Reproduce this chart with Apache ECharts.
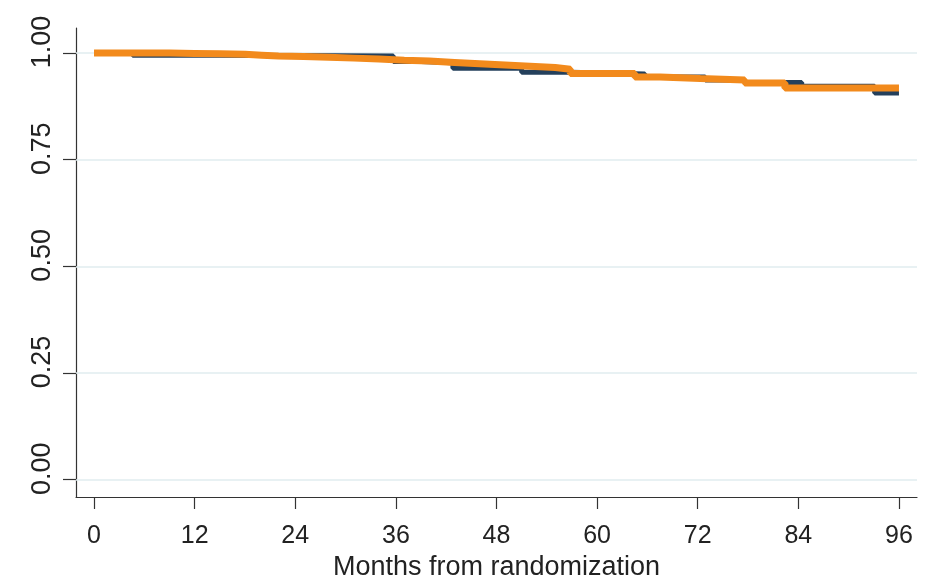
<!DOCTYPE html>
<html>
<head>
<meta charset="utf-8">
<script src="https://cdn.jsdelivr.net/npm/echarts@6/dist/echarts.min.js"></script>
<style>
  html, body { margin: 0; padding: 0; background: #fff; }
  #chart { width: 947px; height: 577px; }
</style>
</head>
<body>
<div id="chart"></div>
<script>
// tick values on each axis
const monthTicks = [0, 12, 24, 36, 48, 60, 72, 84, 96];
const survTicks = [0, 0.25, 0.5, 0.75, 1];

// Kaplan-Meier steps: [month, survival]
const navySteps = [
  [0, 1.0], [4.6, 0.995], [15, 0.993], [35.7, 0.980], [39, 0.977],
  [42.8, 0.964], [51, 0.955], [56.8, 0.951], [65.7, 0.944], [72.9, 0.937],
  [77.6, 0.931], [84.4, 0.922], [93.1, 0.906], [96, 0.906]
];
const orangeSteps = [
  [0, 1.0], [9, 0.999], [12, 0.998], [15, 0.997], [18, 0.995], [20, 0.993],
  [22, 0.992], [25, 0.990], [28, 0.988], [31, 0.986], [34, 0.983], [37, 0.981],
  [40, 0.978], [43, 0.975], [46, 0.972], [49, 0.969], [52, 0.966], [55, 0.962],
  [56.8, 0.952], [64.5, 0.944], [67.5, 0.940], [72.3, 0.937], [77.6, 0.930],
  [82.4, 0.918], [96, 0.918]
];

const chart = echarts.init(document.getElementById('chart'));
const txt = '#222';
const font = '"Liberation Sans", Arial, sans-serif';

chart.setOption({
  animation: false,
  grid: { left: 76, right: 30, top: 28, bottom: 80, outerBoundsMode: 'none', containLabel: false },
  xAxis: {
    type: 'value',
    min: -2.15,
    max: 98.15,
    name: 'Months from randomization',
    nameLocation: 'middle',
    nameGap: 45,
    nameTextStyle: { fontSize: 27, color: txt, fontFamily: font },
    axisLine: { show: true, onZero: false, lineStyle: { color: '#333', width: 1.2 } },
    axisTick: { show: true, length: 12, customValues: monthTicks, lineStyle: { color: '#333', width: 1.2 } },
    axisLabel: { customValues: monthTicks, fontSize: 25, color: txt, fontFamily: font, margin: 27 },
    splitLine: { show: false }
  },
  yAxis: {
    type: 'value',
    min: -0.0405,
    max: 1.0586,
    axisLine: { show: true, onZero: false, lineStyle: { color: '#333', width: 1.2 } },
    axisTick: { show: true, length: 13, customValues: survTicks, lineStyle: { color: '#333', width: 1.2 } },
    axisLabel: {
      customValues: survTicks,
      rotate: 90,
      fontSize: 27,
      color: txt,
      fontFamily: font,
      margin: 20,
      padding: [0, 0, 0, 22],
      formatter: (v) => v.toFixed(2)
    },
    splitLine: { show: false }
  },
  series: [
    {
      // horizontal grid lines at the y ticks
      type: 'line',
      data: [],
      z: 1,
      silent: true,
      markLine: {
        z: 1,
        silent: true,
        symbol: 'none',
        label: { show: false },
        lineStyle: { color: '#e1ecef', width: 1.5, type: 'solid' },
        data: survTicks.map((v) => ({ yAxis: v }))
      }
    },
    {
      type: 'line',
      step: 'end',
      symbol: 'none',
      z: 10,
      lineStyle: { color: '#24405c', width: 5 },
      data: navySteps
    },
    {
      type: 'line',
      step: 'end',
      symbol: 'none',
      z: 11,
      lineStyle: { color: '#f28a1c', width: 7 },
      data: orangeSteps
    }
  ]
});
</script>
</body>
</html>
